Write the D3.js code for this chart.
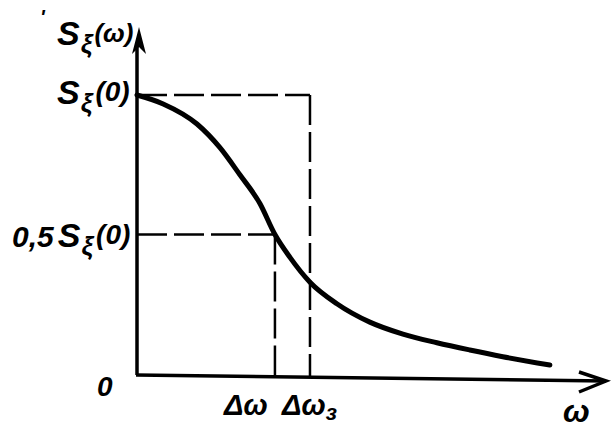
<!DOCTYPE html>
<html>
<head>
<meta charset="utf-8">
<script src="https://cdn.jsdelivr.net/npm/d3@7"></script>
<style>
  body { margin: 0; background: #fff; }
  text { font-family: "Liberation Sans", sans-serif; font-style: italic; font-weight: bold; fill: #000; }
</style>
</head>
<body>
<div id="chart"></div>
<script>
// spectral density curve, S(w)/S(0), w in units of delta-omega
let omega    = [0, 0.19, 0.435, 0.60, 0.746, 0.891, 1.0, 1.109, 1.254, 1.449, 1.688, 1.928, 2.174, 2.413, 2.652, 2.993];
let spectrum = [1, 0.968, 0.896, 0.812, 0.714, 0.611, 0.5, 0.418, 0.329, 0.252, 0.186, 0.143, 0.112, 0.086, 0.062, 0.032];

let deltaW = 1.0;      // half-power bandwidth
let deltaWe = 1.254;   // equivalent bandwidth
let halfLevel = 0.5;

let width = 614, height = 441;

let x = d3.scaleLinear().domain([0, 3.4]).range([137, 606]);
let y = d3.scaleLinear().domain([0, 1]).range([374, 95]);

let svg = d3.select("#chart")
    .append("svg")
    .attr("width", width)
    .attr("height", height);

// axes
svg.append("line")
    .attr("x1", x(0)).attr("y1", y(0) + 1)
    .attr("x2", x(0)).attr("y2", 45)
    .attr("stroke", "black").attr("stroke-width", 3.5);
svg.append("path")
    .attr("d", "M" + (x(0) + 2) + ",27 L" + (x(0) - 5) + ",54 L" + (x(0) + 2) + ",47 L" + (x(0) + 9) + ",54 Z")
    .attr("fill", "black");

let xEnd = x(3.4);
svg.append("line")
    .attr("x1", x(0) - 1).attr("y1", y(0) + 1)
    .attr("x2", xEnd).attr("y2", y(0) + 7)
    .attr("stroke", "black").attr("stroke-width", 3.5);
svg.append("path")
    .attr("d", "M" + (xEnd - 27) + "," + (y(0) - 2) + " L" + xEnd + "," + (y(0) + 7) + " L" + (xEnd - 27) + "," + (y(0) + 18))
    .attr("fill", "none").attr("stroke", "black").attr("stroke-width", 3.5);

// dashed guides
let dash = "30,7";
function guide(x1, y1, x2, y2) {
  svg.append("line")
      .attr("x1", x1).attr("y1", y1).attr("x2", x2).attr("y2", y2)
      .attr("stroke", "black").attr("stroke-width", 2.5)
      .attr("stroke-dasharray", dash);
}
guide(x(0), y(1), x(deltaWe), y(1));
guide(x(deltaWe), y(1), x(deltaWe), y(0) + 2);
guide(x(0), y(halfLevel), x(deltaW), y(halfLevel));
guide(x(deltaW), y(halfLevel), x(deltaW), y(0) + 2);

// the curve
let line = d3.line()
    .x(function(d, i) { return x(omega[i]); })
    .y(function(d) { return y(d); })
    .curve(d3.curveMonotoneX);

svg.append("path")
    .datum(spectrum)
    .attr("d", line)
    .attr("fill", "none")
    .attr("stroke", "black")
    .attr("stroke-width", 5)
    .attr("stroke-linecap", "round");

// labels: [x, baseline, parts], each part = [text, size, dy, dx]
function label(lx, ly, parts) {
  let t = svg.append("text").attr("x", lx).attr("y", ly);
  parts.forEach(function(p) {
    t.append("tspan").text(p[0]).style("font-size", p[1] + "px").attr("dy", p[2]).attr("dx", p[3] || 0);
  });
}
label(57, 45, [["S", 34, 0], ["ξ", 26, 8, 1], ["(ω)", 26, -11, 2]]);
label(57, 104, [["S", 34, 0], ["ξ", 26, 8, 1], ["(0)", 28, -11, 3]]);
label(12, 247, [["0,5", 30, 0], ["S", 34, 0, 4], ["ξ", 26, 8, 1], ["(0)", 28, -11, 3]]);
label(97, 396, [["0", 28, 0]]);
label(224, 415, [["Δω", 29, 0]]);
label(282, 415, [["Δω", 29, 0], ["з", 22, 5]]);
label(563, 422, [["ω", 32, 0]]);
svg.append("text").attr("x", 40).attr("y", 24).style("font-size", "20px").text("'");
</script>
</body>
</html>
